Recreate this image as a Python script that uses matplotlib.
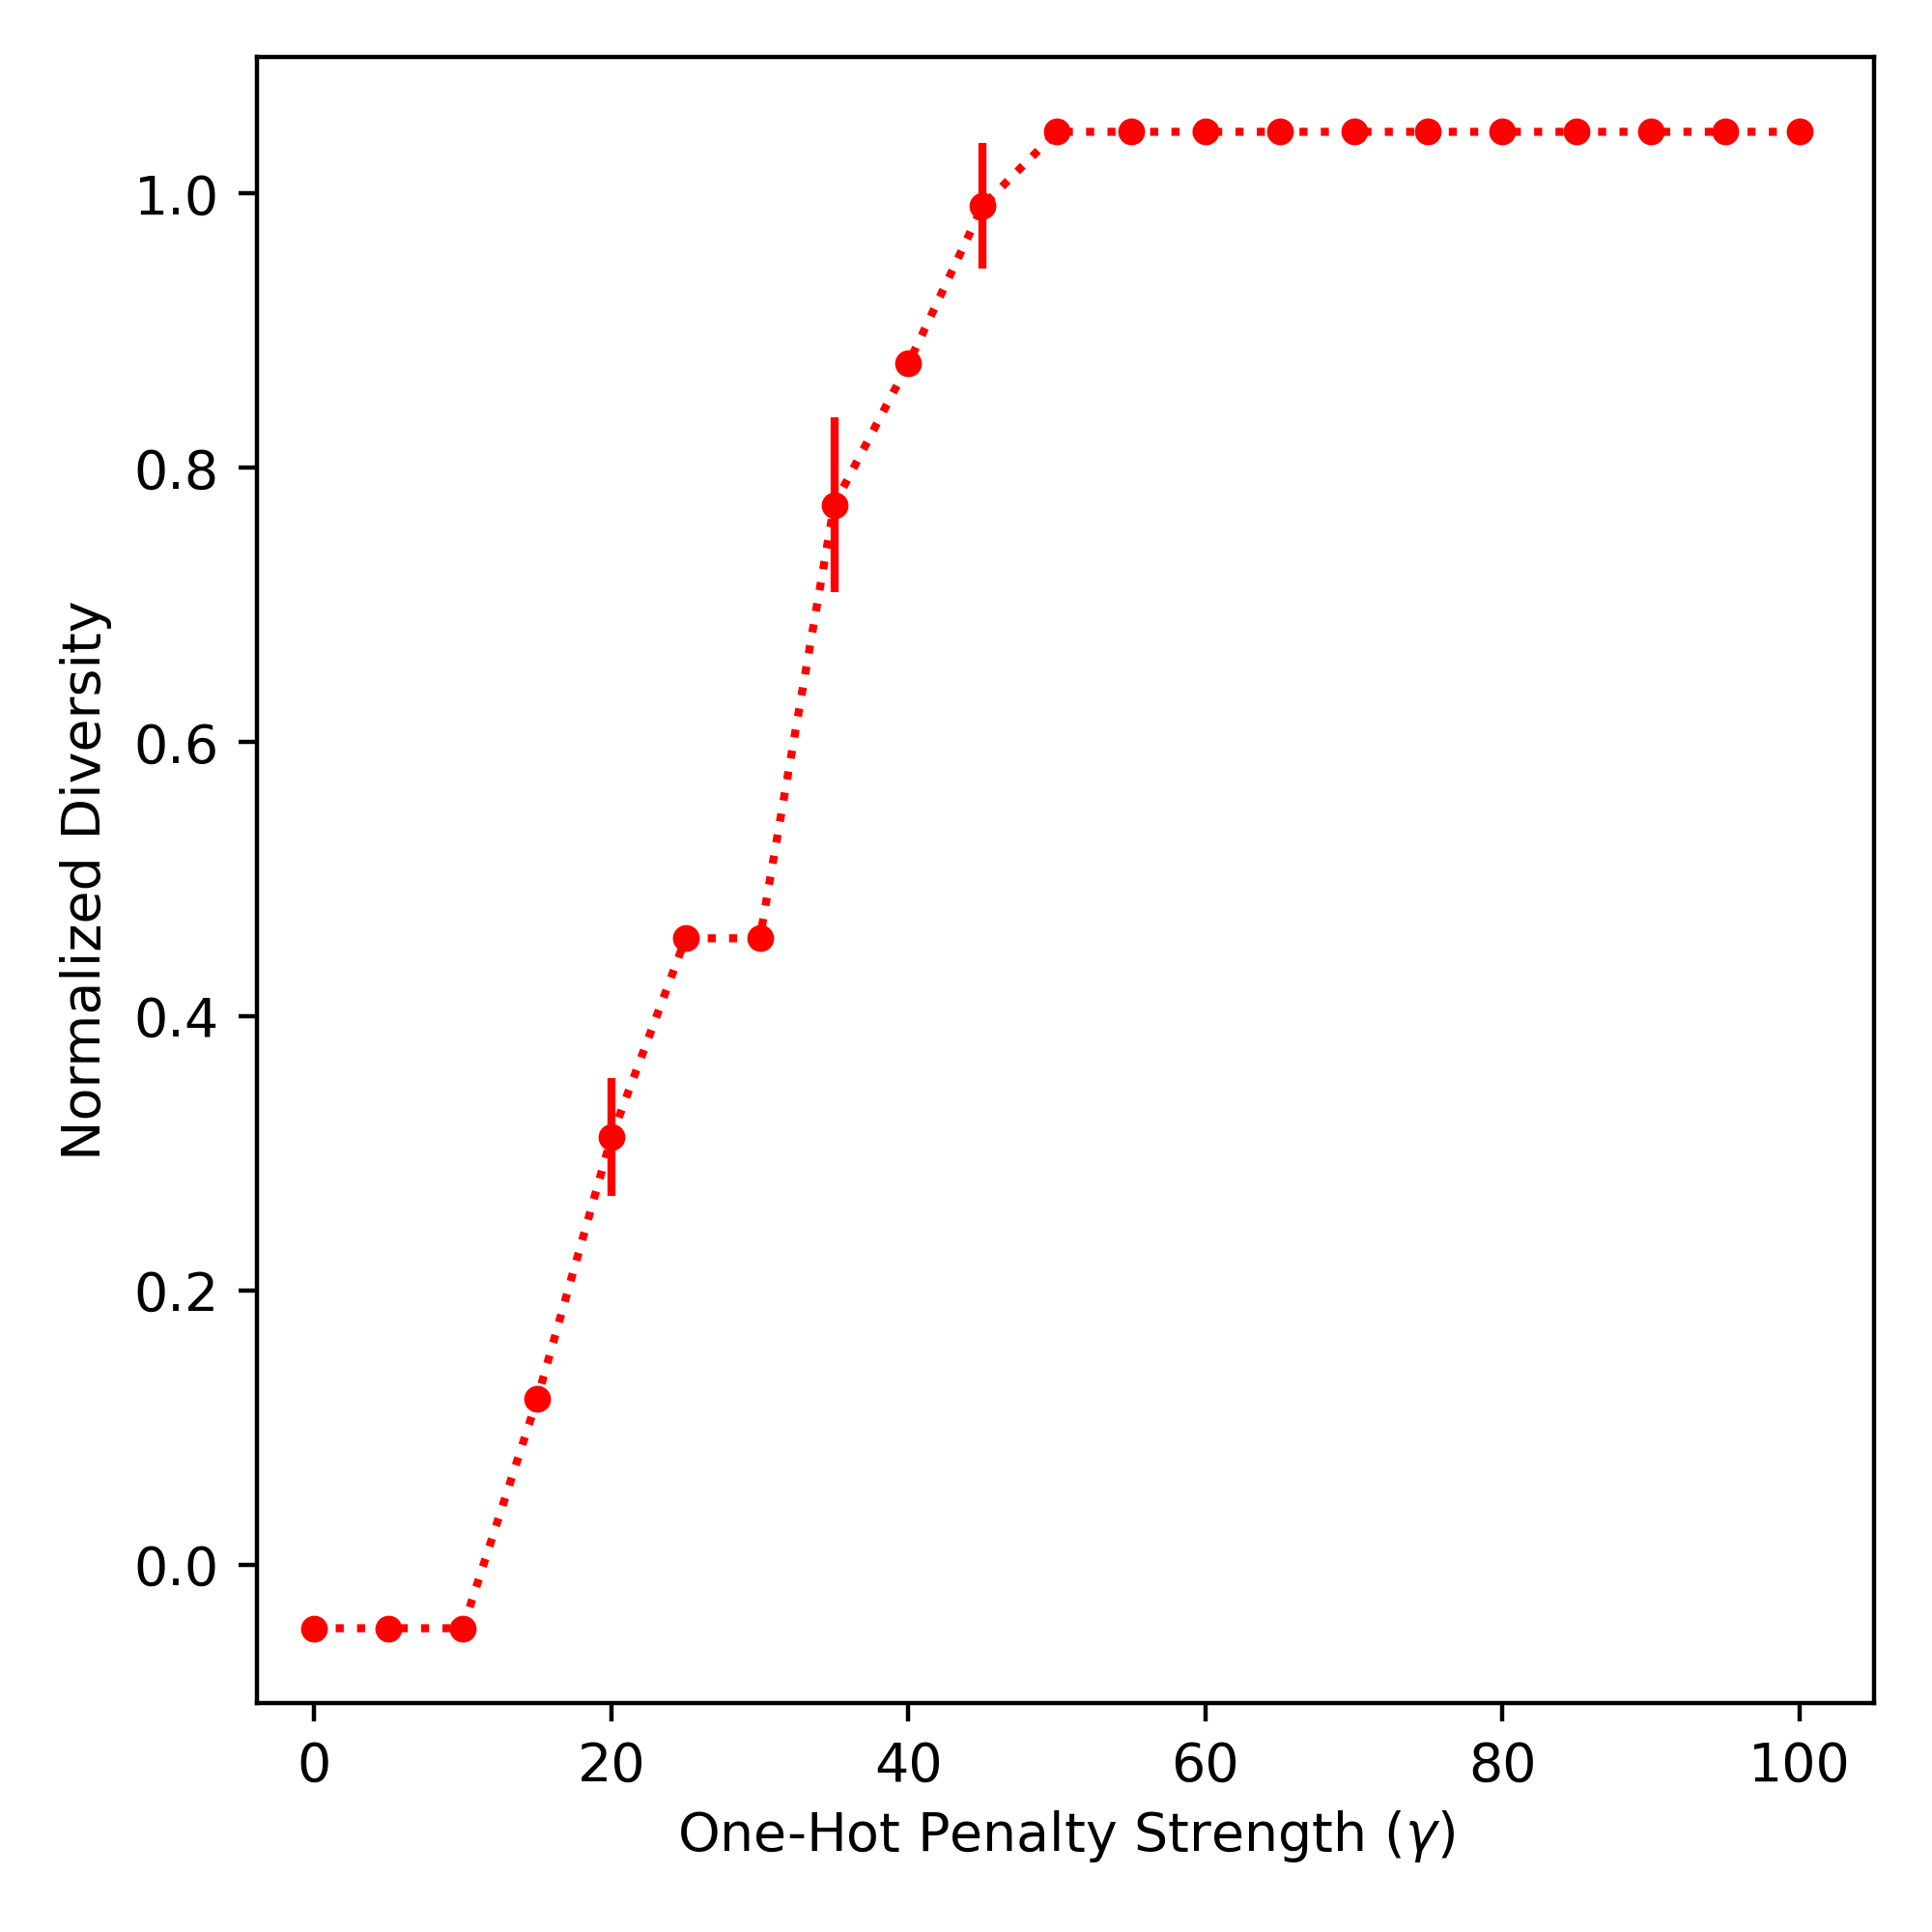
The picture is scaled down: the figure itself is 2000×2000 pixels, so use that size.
import numpy as np
from matplotlib import pyplot as plt

# penalty strength values and measured diversity
gamma = [0, 5, 10, 15, 20, 25, 30, 35, 40, 45, 50,
         55, 60, 65, 70, 75, 80, 85, 90, 95, 100]
diversity = [-0.046, -0.046, -0.046, 0.121, 0.312, 0.457, 0.457, 0.773, 0.876, 0.991, 1.045,
             1.045, 1.045, 1.045, 1.045, 1.045, 1.045, 1.045, 1.045, 1.045, 1.045]
diversity_err = [0, 0, 0, 0, 0.043, 0, 0, 0.0636, 0, 0.0456, 0,
                 0, 0, 0, 0, 0, 0, 0, 0, 0, 0]

fig = plt.figure(figsize=(5, 5), dpi=400)
ax = fig.add_axes([0.1329, 0.1185, 0.9702 - 0.1329, 0.9705 - 0.1185])

ax.errorbar(gamma, diversity, yerr=diversity_err, fmt="r:o", markersize=4, linewidth=1.5)

ax.set_xlim(-3.88, 105.05)
ax.set_xlabel(r"One-Hot Penalty Strength $\mathit{(\gamma)}$", labelpad=2.9)
ax.set_ylabel("Normalized Diversity")

fig.savefig("out.png", dpi=400)
